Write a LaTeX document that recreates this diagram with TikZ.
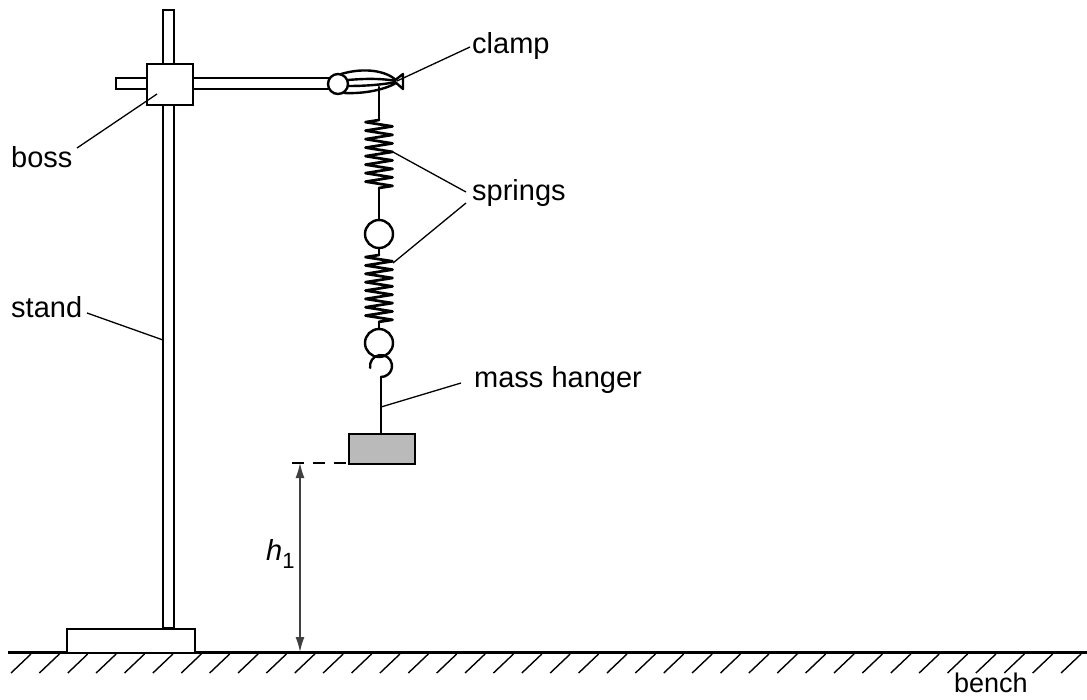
\documentclass[tikz,border=0pt]{standalone}
\usepackage{fontspec}
\setmainfont{Liberation Sans}
\usetikzlibrary{arrows.meta}
\begin{document}
\begin{tikzpicture}[x=1pt,y=-1pt,
  part/.style={line width=2.4pt, draw=black, fill=white},
  wire/.style={line width=2.4pt, line join=round, line cap=round},
  coilw/.style={line width=2.7pt, line join=round, line cap=round},
  leader/.style={line width=1.3pt},
  lbl/.style={inner sep=0pt, anchor=base west, font=\fontsize{29}{34}\selectfont},
  hatch/.style={line width=1.4pt},
  dimarrow/.style={line width=1.4pt, draw=black!75, {Latex[length=15pt,width=9pt]}-{Latex[length=15pt,width=9pt]}}]
\useasboundingbox (0,0) rectangle (1087,699);
% bench
\coordinate (benchL) at (8,652);
\coordinate (benchR) at (1087,652);
\draw[line width=3pt] (benchL) -- (benchR);
\foreach \i in {0,...,37} {
  \draw[hatch] (11+\i*28.38,673) -- ++(20,-19);
}
% stand rod, base, horizontal rod, boss
\draw[part] (163,10) rectangle (174,628);
\node[part, minimum width=128pt, minimum height=24pt, inner sep=0pt, anchor=north west] (base) at (66,628) {};
\draw[part] (116,78) rectangle (330,89);
\node[part, minimum width=46pt, minimum height=41pt, inner sep=0pt, anchor=north west] (boss) at (146,63) {};
% clamp
\draw[wire] (341,74) .. controls (365,67) and (386,71) .. (396,80);
\draw[wire] (348,80) .. controls (370,78) and (386,79) .. (396,81);
\draw[wire] (348,86) .. controls (370,86) and (386,84) .. (396,82);
\draw[wire] (344,93) .. controls (366,94) and (386,89) .. (396,83);
\draw[wire, fill=white] (394,81) -- (403,74) -- (403,89) -- cycle;
\node[part, circle, minimum size=20pt, inner sep=0pt] (ring1) at (338,84) {};
% wire and spring 1
\coordinate (clampTop) at (379,87);
\coordinate (s1top) at (379,120);
\draw[wire] (clampTop) -- (s1top);
\draw[coilw] (s1top) \foreach \i in {0,...,7} {-- ++(-13.5,2.125) -- ++(27,4.25) -- ++(-13.5,2.125)} coordinate (s1bot);
\node[part, circle, minimum size=28pt, inner sep=0pt] (ring2) at (379,234) {};
\draw[wire] (s1bot) -- (ring2.north);
% spring 2
\coordinate (s2top) at (379,255);
\draw[wire] (ring2.south) -- (s2top);
\draw[coilw] (s2top) \foreach \i in {0,...,7} {-- ++(-13.5,2.09) -- ++(27,4.18) -- ++(-13.5,2.09)} coordinate (s2bot);
\node[draw, line width=2.4pt, circle, minimum size=28pt, inner sep=0pt] (ring3) at (379,343) {};
\draw[wire] (s2bot) -- (ring3.north);
% hook and hanger
\draw[wire] (381,366) ++(170:11) arc[start angle=170, end angle=450, radius=11] coordinate (hookBot);
\node[draw, line width=2.4pt, fill=black!27, minimum width=66pt, minimum height=30pt, inner sep=0pt, anchor=north west] (mass) at (348,433) {};
\draw[wire] (hookBot) -- (hookBot |- mass.north);
% dimension
\coordinate (dimTop) at (300,463);
\coordinate (dimBot) at (300,652);
\coordinate (dashL) at (292,463);
\coordinate (massSW) at (347,463);
\draw[line width=1.4pt, dash pattern=on 12pt off 9pt] (dashL) -- (massSW);
\draw[dimarrow] (dimTop) -- (dimBot);
\node[inner sep=0pt, anchor=base west, font=\fontsize{29}{34}\selectfont] (hlbl) at (266,560) {\textit{h}\raisebox{-8pt}{\fontsize{22}{22}\selectfont 1}};
% labels
\node[lbl] (clampLbl) at (472,53) {clamp};
\node[lbl] (springsLbl) at (472,200) {springs};
\node[lbl] (massLbl) at (474,387) {mass hanger};
\node[lbl] (bossLbl) at (11,167) {boss};
\node[lbl] (standLbl) at (11,317) {stand};
\node[lbl, font=\fontsize{27}{31}\selectfont] (benchLbl) at (954,692) {bench};
% leaders
\coordinate (clampA) at (397,81);
\coordinate (clampB) at (470,47);
\draw[leader] (clampA) -- (clampB);
\coordinate (sp1A) at (393,152);
\coordinate (sp1B) at (466,192);
\coordinate (sp2A) at (393,263);
\coordinate (sp2B) at (466,203);
\draw[leader] (sp1A) -- (sp1B);
\draw[leader] (sp2A) -- (sp2B);
\coordinate (massA) at (381,407);
\coordinate (massB) at (461,383);
\draw[leader] (massA) -- (massB);
\coordinate (bossA) at (157,94);
\coordinate (bossB) at (77,148);
\draw[leader] (bossA) -- (bossB);
\coordinate (standA) at (163,340);
\coordinate (standB) at (87,313);
\draw[leader] (standA) -- (standB);
\end{tikzpicture}
\end{document}
